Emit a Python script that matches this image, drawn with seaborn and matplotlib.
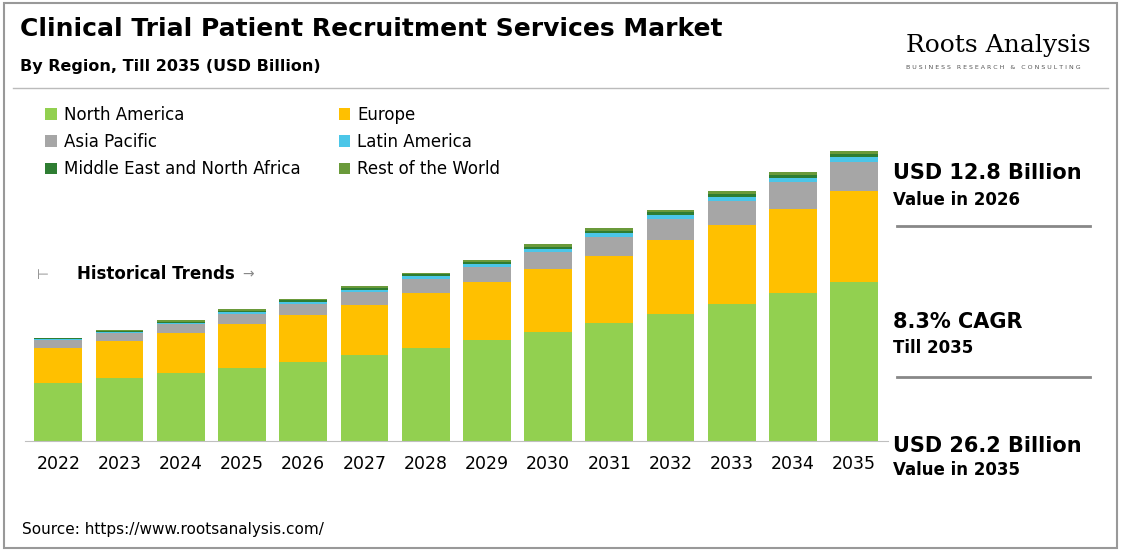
import matplotlib.pyplot as plt
import seaborn as sns
import numpy as np


def build_data():
    """
    Market size by region, USD billion (read off the chart)
    """
    years = [str(y) for y in range(2022, 2036)]
    data = {
        "North America": [5.2, 5.7, 6.1, 6.6, 7.1, 7.7, 8.4, 9.1, 9.8, 10.6, 11.4, 12.3, 13.3, 14.3],
        "Europe": [3.2, 3.3, 3.6, 3.9, 4.2, 4.5, 4.9, 5.2, 5.7, 6.1, 6.7, 7.2, 7.6, 8.2],
        "Asia Pacific": [0.7, 0.7, 0.8, 0.9, 1.0, 1.2, 1.3, 1.4, 1.5, 1.7, 1.9, 2.1, 2.4, 2.6],
        "Latin America": [0.08, 0.12, 0.15, 0.2, 0.22, 0.22, 0.25, 0.28, 0.3, 0.32, 0.35, 0.38, 0.4, 0.45],
        "Middle East and North Africa": [0.05, 0.08, 0.1, 0.12, 0.14, 0.15, 0.16, 0.18, 0.2, 0.22, 0.24, 0.26, 0.28, 0.3],
        "Rest of the World": [0.05, 0.08, 0.1, 0.12, 0.14, 0.15, 0.16, 0.18, 0.2, 0.22, 0.24, 0.26, 0.28, 0.3],
    }
    return years, data


def plot_market(years, data, save_path):
    """
    Stacked bar chart of the market by region
    """
    colors = ["#92d050", "#ffc000", "#a6a6a6", "#4bc6e8", "#2e7d32", "#6a9a3a"]
    fig = plt.figure(figsize=(11.21, 5.51), dpi=100)
    fig.patches.append(plt.Rectangle((0.004, 0.006), 0.992, 0.988, transform=fig.transFigure,
                                     fill=False, edgecolor="#999999", lw=1.5))
    ax = fig.add_axes([0.022, 0.2, 0.77, 0.62])

    bottom = np.zeros(len(years))
    for (region, vals), col in zip(data.items(), colors):
        sns.barplot(x=years, y=vals, bottom=bottom, color=col, width=0.78,
                    label=region, ax=ax, saturation=1, linewidth=0)
        bottom += np.array(vals)

    ax.set_ylim(0, 30.8)
    ax.set_xlim(-0.55, 13.55)
    ax.set_yticks([])
    for s in ["top", "right", "left"]:
        ax.spines[s].set_visible(False)
    ax.spines["bottom"].set_color("#bfbfbf")
    ax.tick_params(axis="x", length=0, labelsize=12.5, pad=10)
    ax.set_ylabel("")

    handles, labels = ax.get_legend_handles_labels()
    order = [0, 2, 4, 1, 3, 5]  # row-wise legend
    ax.legend().remove()
    fig.legend([handles[i] for i in order], [labels[i] for i in order], loc="upper left",
               bbox_to_anchor=(0.027, 0.835), ncol=2, frameon=False, fontsize=12,
               handlelength=0.7, handleheight=0.7, handletextpad=0.4,
               columnspacing=2.3, labelspacing=0.55)
    ax.text(0.3, 14.6, "Historical Trends", fontsize=12, fontweight="bold")
    ax.text(-0.35, 14.6, "\u22a2", fontsize=10, color="#888888")
    ax.text(3.0, 14.6, "\u2192", fontsize=10, color="#888888")

    fig.text(0.018, 0.935, "Clinical Trial Patient Recruitment Services Market",
             fontsize=18, fontweight="bold")
    fig.text(0.018, 0.872, "By Region, Till 2035 (USD Billion)", fontsize=11.5, fontweight="bold")
    fig.text(0.808, 0.905, "Roots Analysis", fontsize=18, family="DejaVu Serif")
    fig.text(0.808, 0.875, "B U S I N E S S   R E S E A R C H   &   C O N S U L T I N G",
             fontsize=4.5, color="#555555")
    fig.lines.append(plt.Line2D([0.012, 0.988], [0.84, 0.84], transform=fig.transFigure,
                                color="#bbbbbb", lw=1))

    fig.text(0.797, 0.675, "USD 12.8 Billion", fontsize=15, fontweight="bold")
    fig.text(0.797, 0.628, "Value in 2026", fontsize=12, fontweight="bold")
    fig.lines.append(plt.Line2D([0.8, 0.972], [0.59, 0.59], transform=fig.transFigure,
                                color="#888888", lw=2))
    fig.text(0.797, 0.405, "8.3% CAGR", fontsize=15, fontweight="bold")
    fig.text(0.797, 0.36, "Till 2035", fontsize=12, fontweight="bold")
    fig.lines.append(plt.Line2D([0.8, 0.972], [0.316, 0.316], transform=fig.transFigure,
                                color="#888888", lw=2))
    fig.text(0.797, 0.18, "USD 26.2 Billion", fontsize=15, fontweight="bold")
    fig.text(0.797, 0.138, "Value in 2035", fontsize=12, fontweight="bold")

    fig.text(0.02, 0.03, "Source: https://www.rootsanalysis.com/", fontsize=11)

    plt.savefig(save_path)
    plt.close()
    print(f"Plot saved as {save_path}")


def main():
    years, data = build_data()
    plot_market(years, data, "out.png")


if __name__ == "__main__":
    main()
